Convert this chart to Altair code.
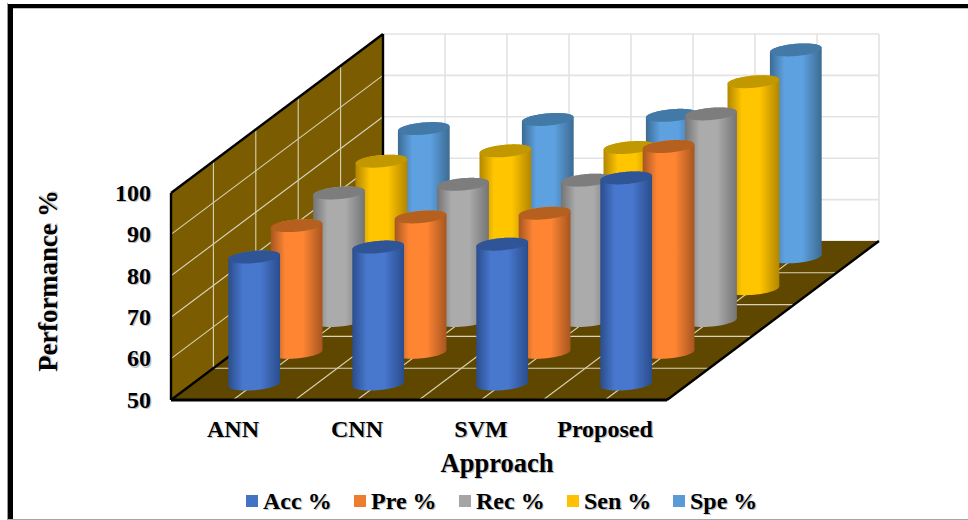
import numpy as np
import pandas as pd
import altair as alt

# Chart values
categories = ["ANN", "CNN", "SVM", "Proposed"]
series = ["Acc %", "Pre %", "Rec %", "Sen %", "Spe %"]
acc = [80.7, 83.1, 83.8, 99.8]
pre = [80.6, 82.7, 83.6, 99.7]
rec = [80.8, 82.9, 83.9, 99.9]
sen = [80.8, 83.3, 84.1, 100.0]
spe = [81.0, 83.2, 84.2, 100.0]
values = [acc, pre, rec, sen, spe]
y_ticks = [50, 60, 70, 80, 90, 100]

# Colours per series: swatch, cylinder edge, cylinder centre, cap
swatch = ["#4472c4", "#ed7d31", "#a5a5a5", "#ffc000", "#5b9bd5"]
edge = ["#2a4d8c", "#a65620", "#747474", "#b38600", "#3c6b93"]
centre = ["#4877ce", "#ff8533", "#ababab", "#ffc600", "#5ea1e1"]
cap = ["#2f5597", "#b5601f", "#7d7d7d", "#c29800", "#4379a6"]

WALL = "#7b5c00"
FLOOR = "#5f4700"
WALL_GRID = "#d8d2b8"
BACK_GRID = "#e3e3e3"
SERIF = "Liberation Serif"

W, H = 968, 520
PX_X, PX_Y = 124.0, 4.14       # pixels per category, pixels per percentage point
X0, Y0 = 171.0, 400.0          # pixel position of the front-left corner at value 50
DEPTH_X = 42.4 / PX_X          # oblique shift of one series row, in category units
DEPTH_Y = 31.8 / PX_Y          # oblique shift of one series row, in value units
N_CAT, N_SER = len(categories), len(series)


def ux(px):
    return (np.asarray(px, dtype=float) - X0) / PX_X


def uy(py):
    return 50 + (Y0 - np.asarray(py, dtype=float)) / PX_Y


SX = alt.Scale(domain=[float(ux(0)), float(ux(W))], nice=False, zero=False)
SY = alt.Scale(domain=[float(uy(H)), float(uy(0))], nice=False, zero=False)


def xe(name="x"):
    return alt.X(f"{name}:Q", scale=SX, axis=None)


def ye(name="y"):
    return alt.Y(f"{name}:Q", scale=SY, axis=None)


def project(cat_pos, val, depth):
    return cat_pos + depth * DEPTH_X, val + depth * DEPTH_Y


def ellipse_envelope(n=61):
    """Upper and lower outline of a circle lying on the floor, seen obliquely (pixels, up positive)."""
    a, b = 24.4, 10.8
    dir_x, dir_y = 0.8, 0.6
    t0 = np.arctan2(b * dir_x, a)
    reach = np.hypot(a, b * dir_x)
    px = np.linspace(-reach, reach, n)
    tu = np.linspace(t0, t0 + np.pi, 361)
    tl = np.linspace(t0 + np.pi, t0 + 2 * np.pi, 361)
    ux_, uy_ = a * np.cos(tu) + b * dir_x * np.sin(tu), b * dir_y * np.sin(tu)
    lx_, ly_ = a * np.cos(tl) + b * dir_x * np.sin(tl), b * dir_y * np.sin(tl)
    upper = np.interp(px, ux_[::-1], uy_[::-1])
    lower = np.interp(px, lx_, ly_)
    return px, upper, lower


ENV_X, ENV_UP, ENV_LOW = ellipse_envelope()


def rule_layer(rows, color, width):
    df = pd.DataFrame(rows, columns=["x", "y", "x2", "y2"])
    return alt.Chart(df).mark_rule(color=color, strokeWidth=width).encode(
        x=xe(), y=ye(), x2="x2:Q", y2="y2:Q"
    )


def text_layer(rows, size, align="center", angle=0):
    df = pd.DataFrame(rows, columns=["x", "y", "label"])
    common = dict(font=SERIF, fontWeight="bold", fontSize=size, align=align,
                  baseline="middle", angle=angle)
    shadow = alt.Chart(df).mark_text(color="#777777", opacity=0.45, dx=1.2, dy=1.2, **common)
    front = alt.Chart(df).mark_text(color="#000000", **common)
    enc = dict(x=xe(), y=ye(), text="label:N")
    return [shadow.encode(**enc), front.encode(**enc)]


layers = []

# Back wall with its light grid
back_shift = N_SER * DEPTH_Y
hy = [[float(N_SER * DEPTH_X), t + back_shift, float(N_CAT + N_SER * DEPTH_X), t + back_shift]
      for t in y_ticks]
vy = [[k / 2 + N_SER * DEPTH_X, 50 + back_shift, k / 2 + N_SER * DEPTH_X, 100 + back_shift]
      for k in range(1, 2 * N_CAT + 1)]
layers.append(rule_layer(hy + vy, BACK_GRID, 1.6))

# Side wall
d_vals = [0.0, N_SER]
wall = pd.DataFrame({
    "x": [d * DEPTH_X for d in d_vals],
    "y": [50 + d * DEPTH_Y for d in d_vals],
    "y2": [100 + d * DEPTH_Y for d in d_vals],
})
layers.append(alt.Chart(wall).mark_area(orient="vertical", color=WALL).encode(
    x=xe(), y=ye(), y2="y2:Q"))

# Floor
floor = pd.DataFrame({
    "y": [50.0, 50 + N_SER * DEPTH_Y],
    "x": [0.0, N_SER * DEPTH_X],
    "x2": [float(N_CAT), N_CAT + N_SER * DEPTH_X],
})
layers.append(alt.Chart(floor).mark_area(orient="horizontal", color=FLOOR).encode(
    y=ye(), x=xe(), x2="x2:Q"))

# Grid lines drawn on the side wall and the floor
side_h = [[0.0, t, N_SER * DEPTH_X, t + N_SER * DEPTH_Y] for t in y_ticks[1:-1]]
side_v = [[d * DEPTH_X, 50 + d * DEPTH_Y, d * DEPTH_X, 100 + d * DEPTH_Y] for d in range(1, N_SER)]
floor_h = [[d * DEPTH_X, 50 + d * DEPTH_Y, N_CAT + d * DEPTH_X, 50 + d * DEPTH_Y]
           for d in range(1, N_SER)]
floor_d = [[k / 2, 50.0, k / 2 + N_SER * DEPTH_X, 50 + N_SER * DEPTH_Y]
           for k in range(1, 2 * N_CAT)]
layers.append(rule_layer(side_h + side_v + floor_h + floor_d, WALL_GRID, 1.1))

# Dark outline of the walls and floor
outline = [
    [0.0, 50.0, 0.0, 100.0],
    [0.0, 100.0, N_SER * DEPTH_X, 100 + N_SER * DEPTH_Y],
    [N_SER * DEPTH_X, 50 + N_SER * DEPTH_Y, N_SER * DEPTH_X, 100 + N_SER * DEPTH_Y],
    [0.0, 50.0, N_SER * DEPTH_X, 50 + N_SER * DEPTH_Y],
    [float(N_CAT), 50.0, N_CAT + N_SER * DEPTH_X, 50 + N_SER * DEPTH_Y],
]
layers.append(rule_layer(outline, "#000000", 2.4))
layers.append(rule_layer([[0.0, 50.0, float(N_CAT), 50.0]], "#000000", 3))

# Cylinders, rows painted from the back of the floor to the front
for j in reversed(range(N_SER)):
    body_rows, cap_rows = [], []
    for i, cat in enumerate(categories):
        cx, base = project(i + 0.5, 50.0, j + 0.5)
        _, top = project(i + 0.5, values[j][i], j + 0.5)
        xs = cx + ENV_X / PX_X
        body = pd.DataFrame({"x": xs, "y": top + ENV_UP / PX_Y, "y2": base + ENV_LOW / PX_Y, "cat": cat})
        lid = pd.DataFrame({"x": xs, "y": top + ENV_UP / PX_Y, "y2": top + ENV_LOW / PX_Y, "cat": cat})
        body_rows.append(body)
        cap_rows.append(lid)
    fill = alt.Gradient(
        gradient="linear", x1=0, x2=1, y1=0, y2=0,
        stops=[
            alt.GradientStop(offset=0, color=edge[j]),
            alt.GradientStop(offset=0.28, color=centre[j]),
            alt.GradientStop(offset=0.62, color=centre[j]),
            alt.GradientStop(offset=1, color=edge[j]),
        ],
    )
    layers.append(alt.Chart(pd.concat(body_rows)).mark_area(orient="vertical", color=fill).encode(
        x=xe(), y=ye(), y2="y2:Q", detail="cat:N"))
    layers.append(alt.Chart(pd.concat(cap_rows)).mark_area(orient="vertical", color=cap[j]).encode(
        x=xe(), y=ye(), y2="y2:Q", detail="cat:N"))

# Value axis labels
layers += text_layer([[float(ux(151)), t - 0.2, str(t)] for t in y_ticks], 24, align="right")

# Category labels and axis titles
layers += text_layer([[i + 0.5, float(uy(429.5)), c] for i, c in enumerate(categories)], 24)
layers += text_layer([[float(ux(497)), float(uy(463.5)), "Approach"]], 26.5)
layers += text_layer([[float(ux(49)), float(uy(281)), "Performance %"]], 26.7, angle=270)

# Legend row
legend_px = [252, 360, 465, 573, 679]
swatches = pd.DataFrame({
    "x": ux(legend_px),
    "y": float(uy(501)),
    "name": series,
})
layers.append(alt.Chart(swatches).mark_square(size=144, opacity=1).encode(
    x=xe(), y=ye(),
    color=alt.Color("name:N", scale=alt.Scale(domain=series, range=swatch), legend=None),
))
layers += text_layer([[float(ux(p + 11)), float(uy(501.5)), s] for p, s in zip(legend_px, series)],
                     24, align="left")

# Picture frame: heavy black on the top and left, thin grey elsewhere
frame = pd.DataFrame({
    "x": ux([7, 8, 7, 7]),
    "x2": ux([W, 13, 8, W]),
    "y": uy([4, 4, 3, 519]),
    "y2": uy([8.3, 520, 520, 520]),
    "shade": ["#000000", "#000000", "#9a9a9a", "#a6a6a6"],
})
layers.append(alt.Chart(frame).mark_rect().encode(
    x=xe(), x2="x2:Q", y=ye(), y2="y2:Q",
    color=alt.Color("shade:N", scale=None, legend=None),
))

chart = alt.layer(*layers).resolve_scale(color="independent").properties(
    width=W, height=H, padding=0, background="white",
    autosize=alt.AutoSizeParams(type="none"),
).configure_view(stroke=None)

chart.save("out.html", embed_options={"renderer": "svg", "actions": False})
